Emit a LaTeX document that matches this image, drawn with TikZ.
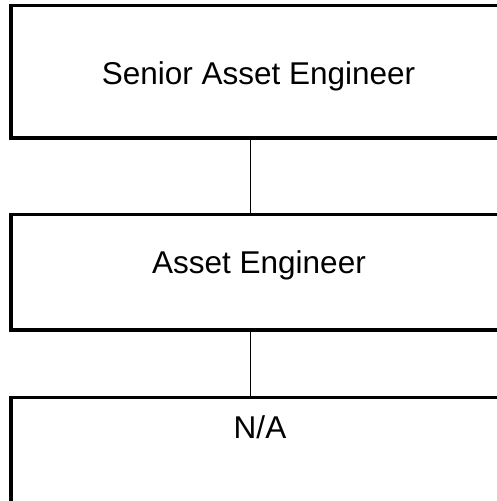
\documentclass[tikz,border=0pt]{standalone}
\usepackage{fontspec}
\setmainfont{Liberation Sans}
\tikzset{
    rolebox/.style={draw=black, line width=3.2bp, rectangle, inner sep=0pt},
    rolename/.style={anchor=base, inner sep=0pt, font=\fontsize{31.5bp}{38bp}\selectfont},
    link/.style={draw=black, line width=1.9bp}
}
\begin{document}
\begin{tikzpicture}[x=1bp,y=-1bp]
    \useasboundingbox (0,0) rectangle (497,501);
    \clip (0,0) rectangle (497,501);
    % boxes run off the right and bottom of the page
    \node[rolebox, minimum width=496bp, minimum height=132.5bp] (senior) at (259,71.75) {};
    \node[rolebox, minimum width=496bp, minimum height=115.5bp] (asset) at (259,272.25) {};
    \node[rolebox, minimum width=496bp, minimum height=130bp] (na) at (259,462.5) {};
    \node[rolename] (seniortxt) at (258.5,85) {Senior Asset Engineer};
    \node[rolename] (assettxt) at (259,273) {Asset Engineer};
    \node[rolename] (natxt) at (260,438) {N/A};
    \coordinate (spine) at (250.5,0);
    \draw[link] (senior.south -| spine) -- (asset.north -| spine);
    \draw[link] (asset.south -| spine) -- (na.north -| spine);
\end{tikzpicture}
\end{document}
